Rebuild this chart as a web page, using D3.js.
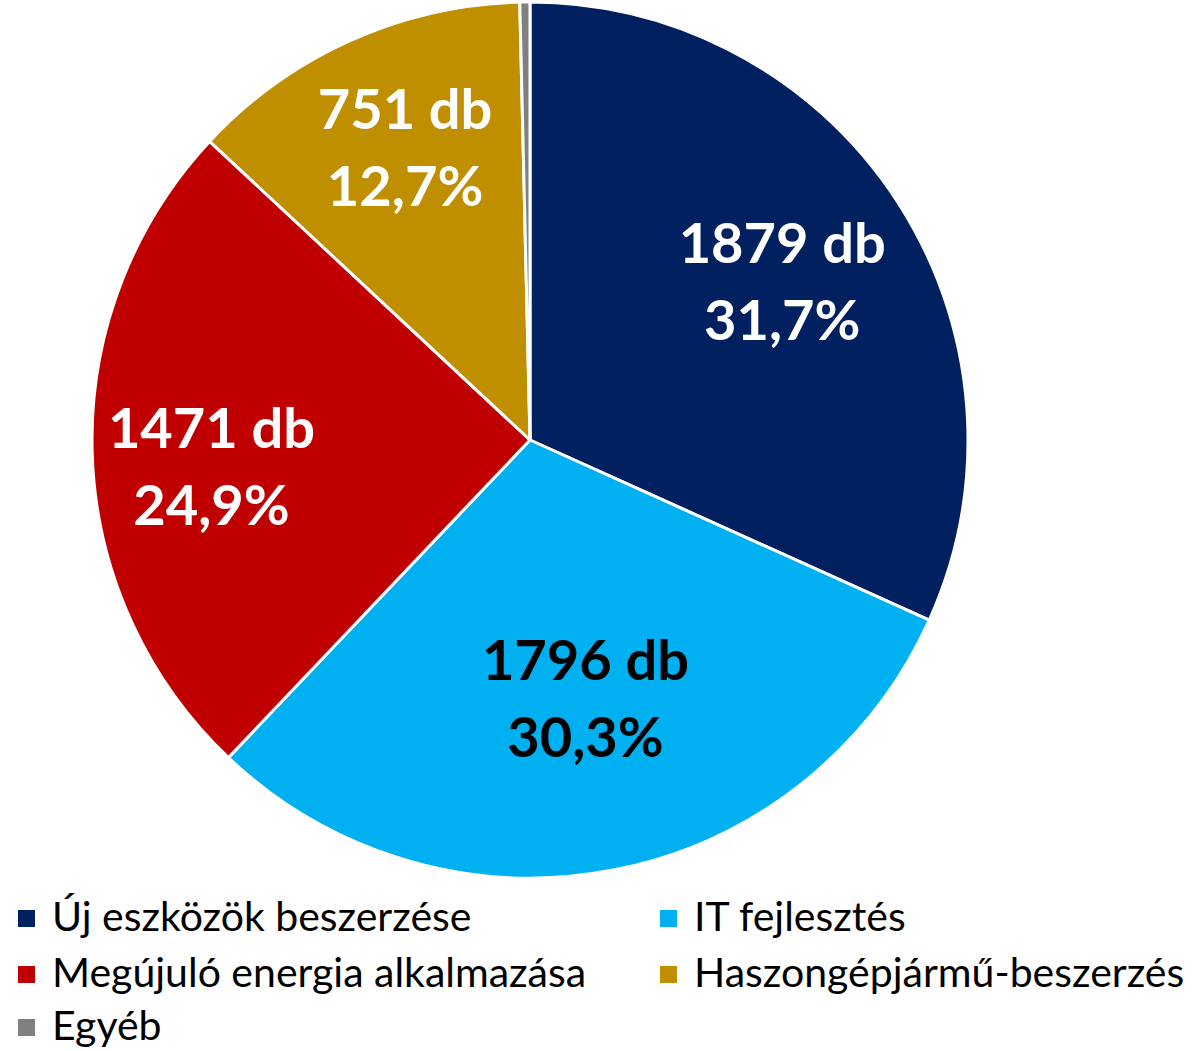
<!DOCTYPE html>
<html>
<head>
<meta charset="utf-8">
<script src="https://cdn.jsdelivr.net/npm/d3@7"></script>
<style>
  body { margin: 0; background: #fff; }
  svg { display: block; }
</style>
</head>
<body>
<script>
// adatok
var categories = ['Új eszközök beszerzése', 'IT fejlesztés', 'Megújuló energia alkalmazása', 'Haszongépjármű-beszerzés', 'Egyéb'];
var counts = [1879, 1796, 1471, 751, 22];
var shareLabels = ['31,7%', '30,3%', '24,9%', '12,7%', ''];
var colors = ['#002060', '#00b0f0', '#c00000', '#bf8f00', '#808080'];

var width = 1198, height = 1051;
var cx = 530, cy = 440, radius = 438;

var svg = d3.select('body').append('svg')
    .attr('width', width)
    .attr('height', height);

var pie = d3.pie().sort(null).value(function(d) { return d; });
var arcs = pie(counts);

var arc = d3.arc().innerRadius(0).outerRadius(radius);

var g = svg.append('g').attr('transform', 'translate(' + cx + ',' + cy + ')');

g.selectAll('path')
    .data(arcs)
    .enter().append('path')
    .attr('d', arc)
    .attr('fill', function(d, i) { return colors[i]; })
    .attr('stroke', '#fff')
    .attr('stroke-width', 3)
    .attr('stroke-linejoin', 'round');

// címkék helye (a sugár aránya + kis eltolás)
var labelR = [0.68, 0.61, 0.73, 0.73];
var labelShift = [[2, 4], [4, -3], [1, 17], [6, 0]];
var textColor = ['#fff', '#000', '#fff', '#fff'];

arcs.forEach(function(d, i) {
    if (!shareLabels[i]) return;
    var r = radius * labelR[i];
    var c = d3.arc().innerRadius(r).outerRadius(r).centroid(d);
    var x = c[0] + labelShift[i][0], y = c[1] + labelShift[i][1];
    var t = g.append('text')
        .attr('x', x)
        .attr('y', y)
        .attr('text-anchor', 'middle')
        .attr('font-family', 'Lato, sans-serif')
        .attr('font-weight', 'bold')
        .attr('font-size', 56)
        .attr('fill', textColor[i]);
    t.append('tspan').attr('x', x).attr('dy', -19).text(counts[i] + ' db');
    t.append('tspan').attr('x', x).attr('dy', 77).text(shareLabels[i]);
});

// jelmagyarázat
var legendX = [18, 660];
var legendY = [918, 974, 1027];

var legend = svg.selectAll('.legend')
    .data(categories)
    .enter().append('g')
    .attr('class', 'legend')
    .attr('transform', function(d, i) {
        return 'translate(' + legendX[i % 2] + ',' + legendY[Math.floor(i / 2)] + ')';
    });

legend.append('rect')
    .attr('x', 0)
    .attr('y', -8)
    .attr('width', 17)
    .attr('height', 17)
    .attr('fill', function(d, i) { return colors[i]; });

legend.append('text')
    .attr('x', 34)
    .attr('y', 13)
    .attr('font-family', 'Lato, sans-serif')
    .attr('font-size', 41)
    .attr('fill', '#000')
    .text(function(d) { return d; });
</script>
</body>
</html>
